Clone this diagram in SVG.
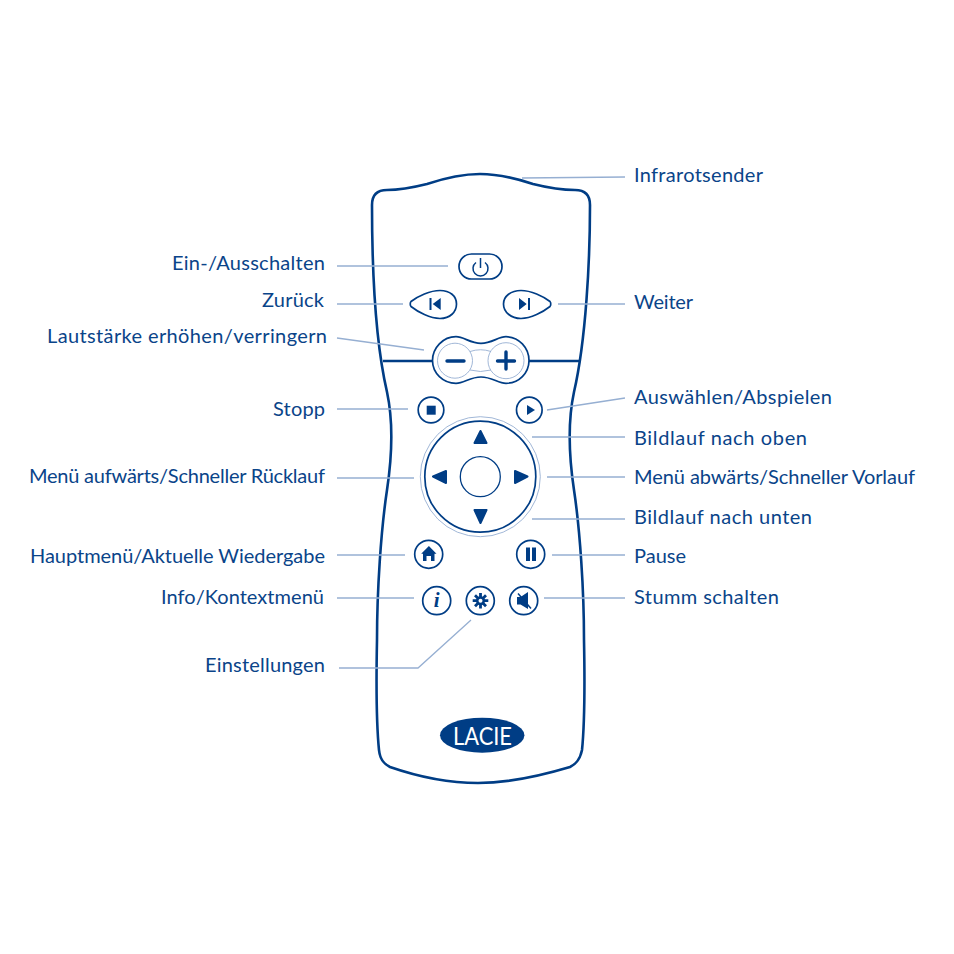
<svg xmlns="http://www.w3.org/2000/svg" width="954" height="954" viewBox="0 0 954 954">
<style>
.o{fill:none;stroke:#003d85;stroke-width:2.6;stroke-linejoin:round}
.b{fill:#fff;stroke:#003d85;stroke-width:1.7}
.f{fill:#003d85;stroke:none}
.a{fill:#003d85;stroke:#003d85;stroke-width:2;stroke-linejoin:round}
.t{fill:none;stroke:#96afd2;stroke-width:1.3}
.h{fill:none;stroke:#96afd2;stroke-width:.9}
.n{fill:none;stroke:#003d85;stroke-width:1.3}
text{font-family:"Lato","Liberation Sans",sans-serif;font-size:20px;font-weight:400;fill:#0a4489}
</style>
<rect width="954" height="954" fill="#fff"/>
<g id="remote-body">
<path class="o" d="M372 205C372 195 377 190 387 190C403 190 415 187 427 184C445 178 462 174 480 174C498 174 515 178 533 184C545 187 558 190 575 190C585 190 590 195 590 205C590 260 586 340 574 392C568 420 568 450 574 490C580 530 584 590 584 640C585 690 585 720 582 750C580 760 576 764 570 767C540 776 510 783 478 783C446 783 416 776 390 767C384 764 380 760 379 750C376 720 376 690 377 640C377 590 381 530 387 490C393 450 393 420 387 392C375 340 372 260 372 205Z"/>
<path class="o" d="M383 361H433M528 361H580"/>
</g>
<g id="connectors">
<path class="t" d="M522 178L625 177"/>
<path class="t" d="M337 266H448"/>
<path class="t" d="M337 304H403"/>
<path class="t" d="M558 304H625"/>
<path class="t" d="M337 338L424 350"/>
<path class="t" d="M337 409H408"/>
<path class="t" d="M547 410L625 398"/>
<path class="t" d="M532 437H625"/>
<path class="t" d="M337 478H414"/>
<path class="t" d="M547 477H625"/>
<path class="t" d="M532 519H625"/>
<path class="t" d="M337 555H405"/>
<path class="t" d="M552 555H625"/>
<path class="t" d="M337 598H414"/>
<path class="t" d="M544 598H625"/>
<path class="t" d="M339 668H418L471 620"/>
</g>
<g id="btn-power">
<rect class="b" x="459" y="254" width="43" height="25" rx="12.500"/>
<path d="M476 262.500A7.500 7.500 0 1 0 485 262.500M480.500 258V268" fill="none" stroke="#003d85" stroke-width="1.500"/>
</g>
<g id="btn-prev">
<path class="b" d="M411 301.500C418 296 430 290.500 440 290.500C450 290.500 456.500 296 456.500 304C456.500 312 450 318.500 440 318.500C430 318.500 418 312 411 306.500C410 305.500 410 302.500 411 301.500Z"/>
<path class="f" d="M429.500 298H431.500V310H429.500ZM440.700 298V310L432.700 304Z"/>
</g>
<g id="btn-next">
<path class="b" d="M550 301.500C543 296 531 290.500 521 290.500C511 290.500 503.500 296 503.500 304C503.500 312 511 318.500 521 318.500C531 318.500 543 312 550 306.500C551 305.500 551 302.500 550 301.500Z"/>
<path class="f" d="M528 298H530V310H528ZM519 298V310L526.700 304Z"/>
</g>
<g id="btn-volume">
<path class="b" d="M456 336.700C464 336.700 470 343.300 481 343.300C492 343.300 498 336.700 506 336.700C519 336.700 529 348 529 360.500C529 373 519 383.300 506 383.300C498 383.300 492 377 481 377C470 377 464 383.300 456 383.300C443 383.300 432.500 373 432.500 360.500C432.500 348 443 336.700 456 336.700Z"/>
<path class="h" d="M470 351.500Q480.500 348 491 351.500M470 370Q480.500 373 491 370"/>
<circle class="h" cx="455" cy="360.700" r="17.500"/>
<circle class="h" cx="506" cy="360.700" r="18"/>
<path d="M447 361H464M506 352V369M497.500 361H514.500" fill="none" stroke="#003d85" stroke-width="3.400" stroke-linecap="round"/>
</g>
<g id="btn-stop">
<circle class="b" cx="431" cy="410" r="12.800"/>
<rect class="f" x="426.700" y="405.700" width="9" height="9"/>
</g>
<g id="btn-play">
<circle class="b" cx="529.300" cy="410" r="12.800"/>
<path class="f" d="M527 405V415L535 410Z"/>
</g>
<g id="dpad">
<circle class="h" cx="480.300" cy="476.700" r="60" stroke-width="1.100"/>
<circle class="b" cx="480.300" cy="476.700" r="55.500"/>
<circle class="n" cx="480.300" cy="476.700" r="20"/>
<path class="a" d="M480.500 431L486.500 443H474.500ZM480.500 523L486.500 510H474.500ZM433 476.500L446 471V483ZM527.500 476.500L515 471V483Z"/>
</g>
<g id="btn-home">
<circle class="b" cx="428.700" cy="554.300" r="14"/>
<path class="f" d="M428.900 546L436.500 553.700H434.500V561H431V556H426.500V561H423V553.700H421.200Z"/>
</g>
<g id="btn-pause">
<circle class="b" cx="530.700" cy="554.300" r="14"/>
<rect class="f" x="526" y="547.500" width="4" height="13.500"/>
<rect class="f" x="532" y="547.500" width="4" height="13.500"/>
</g>
<g id="btn-info">
<circle class="b" cx="436.700" cy="600.700" r="14"/>
<text x="436.700" y="607" text-anchor="middle" style="font-family:'Liberation Serif',serif;font-style:italic;font-weight:700;font-size:21px;fill:#003d85">i</text>
</g>
<g id="btn-settings">
<circle class="b" cx="480.300" cy="600.700" r="14"/>
<path d="M480.500 593V608.500M472.700 600.700H488.300M475 595.200L486 606.200M486 595.200L475 606.200" stroke="#003d85" stroke-width="2.800" fill="none"/>
<circle cx="480.500" cy="600.700" r="4.500" fill="#003d85"/>
<circle cx="480.500" cy="600.700" r="2" fill="#fff"/>
</g>
<g id="btn-mute">
<circle class="b" cx="523.700" cy="600.700" r="14"/>
<path class="f" d="M517 597H520.500L528 592V609L520.500 604.500H517Z"/>
<path d="M518 593.500L531 608.500" stroke="#003d85" stroke-width="1.500"/>
</g>
<g id="logo">
<ellipse class="f" cx="482.200" cy="735.200" rx="42.200" ry="17.500"/>
<text x="453" y="745" textLength="59" lengthAdjust="spacingAndGlyphs" style="fill:#fff;font-size:25px;">LACIE</text>
</g>
<g id="labels">
<text x="634" y="182" textLength="129">Infrarotsender</text>
<text x="172" y="270" textLength="153">Ein-/Ausschalten</text>
<text x="262" y="307" textLength="62">Zurück</text>
<text x="634" y="309" textLength="59">Weiter</text>
<text x="47" y="343" textLength="280">Lautstärke erhöhen/verringern</text>
<text x="273" y="416" textLength="52">Stopp</text>
<text x="634" y="404" textLength="198">Auswählen/Abspielen</text>
<text x="634" y="445" textLength="173">Bildlauf nach oben</text>
<text x="29" y="483" textLength="296">Menü aufwärts/Schneller Rücklauf</text>
<text x="634" y="484" textLength="281">Menü abwärts/Schneller Vorlauf</text>
<text x="634" y="524" textLength="178">Bildlauf nach unten</text>
<text x="30" y="563" textLength="295">Hauptmenü/Aktuelle Wiedergabe</text>
<text x="634" y="563" textLength="52">Pause</text>
<text x="161" y="604" textLength="163">Info/Kontextmenü</text>
<text x="634" y="604" textLength="145">Stumm schalten</text>
<text x="205" y="672" textLength="120">Einstellungen</text>
</g>
</svg>
